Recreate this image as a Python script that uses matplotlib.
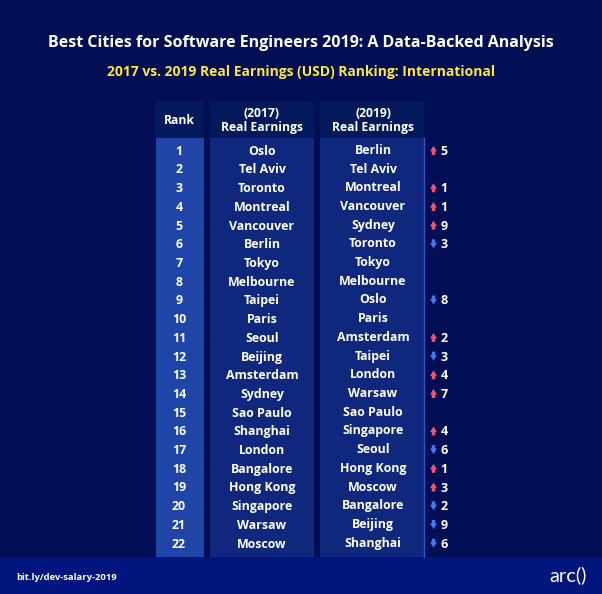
import matplotlib
matplotlib.use("Agg")
import matplotlib.pyplot as plt
from matplotlib.patches import Rectangle

FONT = "Open Sans"

TITLE = "Best Cities for Software Engineers 2019: A Data-Backed Analysis"
SUBTITLE = "2017 vs. 2019 Real Earnings (USD) Ranking: International"

ranks = list(range(1, 23))
cities_2017 = ["Oslo", "Tel Aviv", "Toronto", "Montreal", "Vancouver", "Berlin", "Tokyo",
               "Melbourne", "Taipei", "Paris", "Seoul", "Beijing", "Amsterdam", "Sydney",
               "Sao Paulo", "Shanghai", "London", "Bangalore", "Hong Kong", "Singapore",
               "Warsaw", "Moscow"]
cities_2019 = ["Berlin", "Tel Aviv", "Montreal", "Vancouver", "Sydney", "Toronto", "Tokyo",
               "Melbourne", "Oslo", "Paris", "Amsterdam", "Taipei", "London", "Warsaw",
               "Sao Paulo", "Singapore", "Seoul", "Hong Kong", "Moscow", "Bangalore",
               "Beijing", "Shanghai"]
# positions moved between 2017 and 2019, positive = up
changes = [5, 0, 1, 1, 9, -3, 0, 0, -8, 0, 2, -3, 4, 7, 0, 4, -6, 1, 3, -2, -9, -6]

BG = "#020f55"
FOOTER = "#00157d"
HEAD = "#021a5c"
RANK_BODY = "#1f45a8"
COL_BODY = "#10277e"
UP = "#f0556c"
DOWN = "#3f7bf0"

ROW_TOP = 150.3
ROW_STEP = 18.71

fig = plt.figure(figsize=(6.02, 5.94), dpi=100, facecolor=BG)
ax = fig.add_axes([0, 0, 1, 1])
ax.set_xlim(0, 602)
ax.set_ylim(594, 0)
ax.axis("off")

def box(x0, x1, y0, y1, color):
    ax.add_patch(Rectangle((x0, y0), x1 - x0, y1 - y0, facecolor=color, edgecolor="none"))

def label(x, y, s, size=8.9, color="white", weight="bold", ha="center"):
    # y is the middle of the capitals, so rows with descenders stay level
    base = y + 0.714 * size * 100 / 72 / 2
    ax.text(x, base, s, fontsize=size, color=color, fontweight=weight, ha=ha, va="baseline",
            family=FONT)

# footer band
box(0, 602, 557, 594, FOOTER)

# column headers and bodies
box(155, 204, 101, 138, HEAD)
box(156, 204, 138, 557, RANK_BODY)
box(210, 314, 101, 138, HEAD)
box(210, 314, 138, 557, COL_BODY)
box(320, 424, 101, 138, HEAD)
box(320, 424, 138, 557, COL_BODY)
ax.plot([424, 424], [138, 557], color="#2f55c0", linewidth=1)

label(301, 41.7, TITLE, size=11.5)
label(301, 70.7, SUBTITLE, size=10, color="#fbe73c")

label(179.5, 119.3, "Rank", size=8.7)
label(262, 113, "(2017)", size=8.7)
label(262, 126.5, "Real Earnings", size=8.7)
label(373, 113, "(2019)", size=8.7)
label(373, 126.5, "Real Earnings", size=8.7)

for i, rank in enumerate(ranks):
    y = ROW_TOP + i * ROW_STEP
    label(179, y, str(rank))
    label(262, y, cities_2017[i])
    label(373, y - 0.9, cities_2019[i])
    change = changes[i]
    if change != 0:
        color = UP if change > 0 else DOWN
        dy = 4.5 if change > 0 else -4.5
        ax.annotate("", xy=(433.5, y - dy), xytext=(433.5, y + dy),
                    arrowprops=dict(arrowstyle="simple,head_length=0.4,head_width=0.5,tail_width=0.25",
                                    color=color, linewidth=0, shrinkA=0, shrinkB=0))
        label(444, y, str(abs(change)), size=9)

label(16, 576.5, "bit.ly/dev-salary-2019", size=6.8, ha="left")
ax.text(586.5, 581, "arc()", fontsize=14.5, color="white", fontweight="normal", ha="right",
        va="baseline", family="Lato")

fig.savefig("out.png", dpi=100, facecolor=BG)
plt.close(fig)
